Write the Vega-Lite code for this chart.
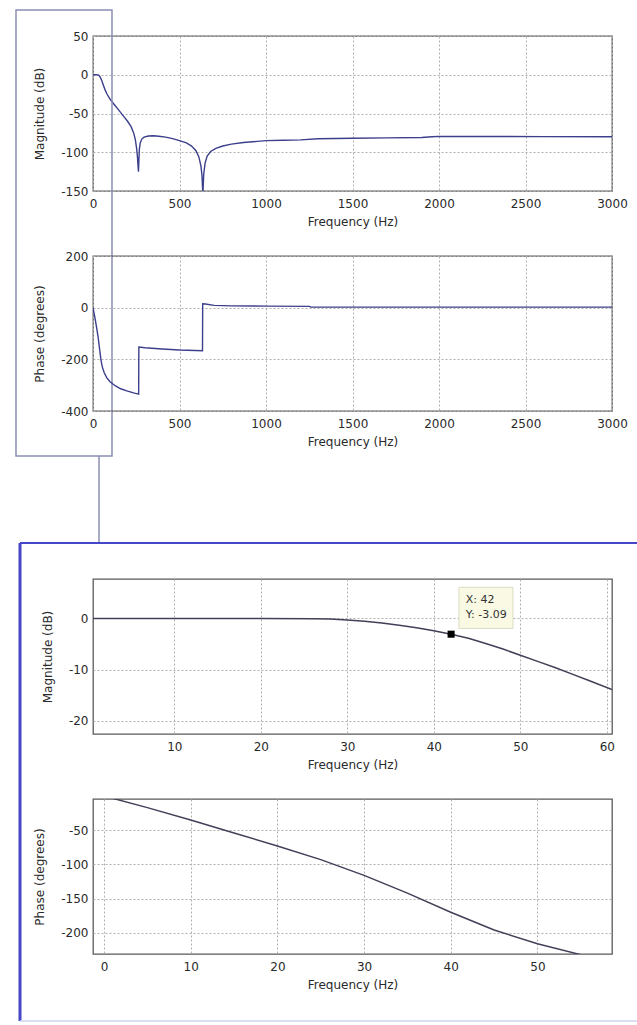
{
  "$schema": "https://vega.github.io/schema/vega-lite/v6.json",
  "background": "white",
  "padding": {"left": 14, "top": 8, "right": 0, "bottom": 0},
  "bounds": "flush",
  "spacing": 65,
  "config": {
    "font": "DejaVu Sans",
    "view": {"stroke": "#5a5a5a", "strokeWidth": 1.3},
    "axis": {
      "domain": false, "ticks": false, "grid": true,
      "gridColor": "#b0b0b0", "gridDash": [2, 2], "gridWidth": 1,
      "labelFont": "DejaVu Sans", "labelFontSize": 12, "labelColor": "#2a2a2a",
      "titleFont": "DejaVu Sans", "titleFontSize": 12, "titleFontWeight": "normal", "titleColor": "#2a2a2a",
      "labelFlush": false, "labelOverlap": false, "labelExpr": "'' + datum.value"
    },
    "axisX": {"labelPadding": 7, "titlePadding": 7},
    "axisY": {"labelPadding": 5, "titlePadding": 14}
  },
  "datasets": {
    "mag": [
      {"f": 0, "dB": 0}, {"f": 10, "dB": 0}, {"f": 20, "dB": 0}, {"f": 30, "dB": -0.3}, {"f": 36, "dB": -1.3},
      {"f": 42, "dB": -3.09}, {"f": 50, "dB": -7.2}, {"f": 60, "dB": -13.5}, {"f": 70, "dB": -19.5}, {"f": 80, "dB": -24.5},
      {"f": 100, "dB": -32}, {"f": 125, "dB": -39}, {"f": 150, "dB": -46}, {"f": 175, "dB": -53}, {"f": 200, "dB": -60},
      {"f": 220, "dB": -67}, {"f": 235, "dB": -75}, {"f": 245, "dB": -84}, {"f": 252, "dB": -95}, {"f": 257, "dB": -106},
      {"f": 261, "dB": -120}, {"f": 263, "dB": -125}, {"f": 265, "dB": -112}, {"f": 268, "dB": -96}, {"f": 273, "dB": -88},
      {"f": 282, "dB": -83}, {"f": 295, "dB": -80.5}, {"f": 320, "dB": -79}, {"f": 350, "dB": -78.8}, {"f": 380, "dB": -79.3},
      {"f": 420, "dB": -80.5}, {"f": 460, "dB": -82.5}, {"f": 500, "dB": -85}, {"f": 540, "dB": -88}, {"f": 570, "dB": -92},
      {"f": 595, "dB": -98}, {"f": 612, "dB": -106}, {"f": 624, "dB": -118}, {"f": 630, "dB": -130}, {"f": 634, "dB": -150},
      {"f": 636, "dB": -150}, {"f": 640, "dB": -128}, {"f": 648, "dB": -114}, {"f": 660, "dB": -105}, {"f": 680, "dB": -99},
      {"f": 710, "dB": -95}, {"f": 750, "dB": -92}, {"f": 800, "dB": -89.5}, {"f": 870, "dB": -87.5}, {"f": 950, "dB": -86},
      {"f": 1000, "dB": -85}, {"f": 1100, "dB": -84.5}, {"f": 1200, "dB": -84}, {"f": 1300, "dB": -82.5}, {"f": 1500, "dB": -82},
      {"f": 1700, "dB": -81.5}, {"f": 1900, "dB": -81}, {"f": 1960, "dB": -80}, {"f": 2000, "dB": -79.5}, {"f": 2300, "dB": -79.7},
      {"f": 2600, "dB": -79.8}, {"f": 3000, "dB": -80}
    ],
    "ph": [
      {"f": 0, "deg": 0}, {"f": 5, "deg": -17}, {"f": 10, "deg": -35}, {"f": 20, "deg": -73}, {"f": 30, "deg": -116},
      {"f": 40, "deg": -170}, {"f": 45, "deg": -197}, {"f": 50, "deg": -217}, {"f": 55, "deg": -232}, {"f": 65, "deg": -252},
      {"f": 80, "deg": -272}, {"f": 100, "deg": -288}, {"f": 130, "deg": -303}, {"f": 160, "deg": -314}, {"f": 200, "deg": -323},
      {"f": 240, "deg": -331}, {"f": 264, "deg": -335}, {"f": 265, "deg": -152}, {"f": 300, "deg": -155}, {"f": 400, "deg": -160},
      {"f": 500, "deg": -164}, {"f": 633, "deg": -167}, {"f": 634, "deg": 15}, {"f": 650, "deg": 14}, {"f": 700, "deg": 9},
      {"f": 800, "deg": 7}, {"f": 1000, "deg": 6}, {"f": 1250, "deg": 5}, {"f": 1260, "deg": 2}, {"f": 2000, "deg": 2},
      {"f": 3000, "deg": 2}
    ],
    "zmag": [
      {"f": 0.6, "dB": 0}, {"f": 10, "dB": 0}, {"f": 20, "dB": 0}, {"f": 26, "dB": -0.05}, {"f": 28, "dB": -0.12},
      {"f": 30, "dB": -0.3}, {"f": 32, "dB": -0.55}, {"f": 34, "dB": -0.9}, {"f": 36, "dB": -1.35}, {"f": 38, "dB": -1.85},
      {"f": 40, "dB": -2.4}, {"f": 42, "dB": -3.09}, {"f": 44, "dB": -3.9}, {"f": 46, "dB": -4.9}, {"f": 48, "dB": -6},
      {"f": 50, "dB": -7.2}, {"f": 52, "dB": -8.4}, {"f": 54, "dB": -9.6}, {"f": 56, "dB": -10.9}, {"f": 58, "dB": -12.2},
      {"f": 60.6, "dB": -13.9}
    ],
    "zph": [
      {"f": 0, "deg": 0}, {"f": 5, "deg": -17}, {"f": 10, "deg": -35}, {"f": 15, "deg": -54}, {"f": 20, "deg": -73},
      {"f": 25, "deg": -93}, {"f": 30, "deg": -116}, {"f": 35, "deg": -142}, {"f": 40, "deg": -170}, {"f": 45, "deg": -196},
      {"f": 50, "deg": -216}, {"f": 55, "deg": -232}
    ],
    "tip": [{"f": 42, "dB": -3.09}],
    "one": [{}]
  },
  "vconcat": [
    {
      "width": 519, "height": 155,
      "layer": [
        {
          "data": {"name": "mag"},
          "mark": {"type": "line", "color": "#3c3f8c", "strokeWidth": 1.4, "clip": true},
          "encoding": {
            "x": {"field": "f", "type": "quantitative", "scale": {"domain": [0, 3000], "nice": false, "zero": false},
                  "axis": {"values": [0, 500, 1000, 1500, 2000, 2500, 3000], "title": "Frequency (Hz)"}},
            "y": {"field": "dB", "type": "quantitative", "scale": {"domain": [-150, 50], "nice": false, "zero": false},
                  "axis": {"values": [-150, -100, -50, 0, 50], "title": "Magnitude (dB)", "labelOverlap": false, "tickCount": 5}}
          }
        },
        {
          "data": {"name": "one"},
          "mark": {"type": "rect", "fill": "transparent", "stroke": "#8a8fb3", "strokeWidth": 1.5, "clip": false},
          "encoding": {"x": {"datum": -445.1}, "x2": {"datum": 109.8}, "y": {"datum": 83.5}, "y2": {"datum": -491.9}}
        },
        {
          "data": {"name": "one"},
          "mark": {"type": "rule", "color": "#8a8fb3", "strokeWidth": 1.5, "clip": false},
          "encoding": {"x": {"datum": 34.7}, "y": {"datum": -491.9}, "y2": {"datum": -604.2}}
        }
      ]
    },
    {
      "width": 519, "height": 155,
      "data": {"name": "ph"},
      "mark": {"type": "line", "color": "#3c3f8c", "strokeWidth": 1.4, "clip": true},
      "encoding": {
        "x": {"field": "f", "type": "quantitative", "scale": {"domain": [0, 3000], "nice": false, "zero": false},
              "axis": {"values": [0, 500, 1000, 1500, 2000, 2500, 3000], "title": "Frequency (Hz)"}},
        "y": {"field": "deg", "type": "quantitative", "scale": {"domain": [-400, 200], "nice": false, "zero": false},
              "axis": {"values": [-400, -200, 0, 200], "title": "Phase (degrees)"}}
      }
    },
    {
      "width": 519, "height": 38,
      "data": {"name": "one"},
      "view": {"stroke": null},
      "mark": {"type": "rule", "opacity": 0},
      "encoding": {}
    },
    {
      "width": 519, "height": 155,
      "layer": [
        {
          "data": {"name": "one"},
          "mark": {"type": "rule", "color": "#4646c8", "strokeWidth": 3, "clip": false},
          "encoding": {"x": {"datum": -7.84}, "y": {"datum": 14.74}, "y2": {"datum": -78.7}}
        },
        {
          "data": {"name": "one"},
          "mark": {"type": "rule", "color": "#4646c8", "strokeWidth": 2.2, "clip": false},
          "encoding": {"x": {"datum": -7.84}, "x2": {"datum": 63.95}, "y": {"datum": 14.74}}
        },
        {
          "data": {"name": "one"},
          "mark": {"type": "rule", "color": "#cfd5ee", "strokeWidth": 1.5, "clip": false},
          "encoding": {"x": {"datum": -7.84}, "x2": {"datum": 63.95}, "y": {"datum": -78.7}}
        },
        {
          "data": {"name": "zmag"},
          "mark": {"type": "line", "color": "#404058", "strokeWidth": 1.5, "clip": true},
          "encoding": {
            "x": {"field": "f", "type": "quantitative", "scale": {"domain": [0.6, 60.6], "nice": false, "zero": false},
                  "axis": {"values": [10, 20, 30, 40, 50, 60], "title": "Frequency (Hz)"}},
            "y": {"field": "dB", "type": "quantitative", "scale": {"domain": [-22.6, 7.7], "nice": false, "zero": false},
                  "axis": {"values": [-20, -10, 0], "title": "Magnitude (dB)"}}
          }
        },
        {
          "data": {"name": "one"},
          "mark": {"type": "rect", "fill": "#fafae4", "stroke": "#dcdcc4", "strokeWidth": 1},
          "encoding": {"x": {"datum": 42.9}, "x2": {"datum": 49.15}, "y": {"datum": 6.08}, "y2": {"datum": -1.96}}
        },
        {
          "data": {"name": "one"},
          "mark": {"type": "text", "align": "left", "baseline": "middle", "fontSize": 11, "color": "#333333"},
          "encoding": {"x": {"datum": 43.7}, "y": {"datum": 3.5}, "text": {"value": "X: 42"}}
        },
        {
          "data": {"name": "one"},
          "mark": {"type": "text", "align": "left", "baseline": "middle", "fontSize": 11, "color": "#333333"},
          "encoding": {"x": {"datum": 43.7}, "y": {"datum": 0.6}, "text": {"value": "Y: -3.09"}}
        },
        {
          "data": {"name": "tip"},
          "mark": {"type": "point", "shape": "square", "filled": true, "color": "#000000", "size": 50, "opacity": 1},
          "encoding": {"x": {"field": "f", "type": "quantitative"}, "y": {"field": "dB", "type": "quantitative"}}
        }
      ]
    },
    {
      "width": 519, "height": 155,
      "data": {"name": "zph"},
      "mark": {"type": "line", "color": "#404058", "strokeWidth": 1.5, "clip": true},
      "encoding": {
        "x": {"field": "f", "type": "quantitative", "scale": {"domain": [-1.27, 58.6], "nice": false, "zero": false},
              "axis": {"values": [0, 10, 20, 30, 40, 50], "title": "Frequency (Hz)"}},
        "y": {"field": "deg", "type": "quantitative", "scale": {"domain": [-231, -4.4], "nice": false, "zero": false},
              "axis": {"values": [-200, -150, -100, -50], "title": "Phase (degrees)"}}
      }
    }
  ]
}
